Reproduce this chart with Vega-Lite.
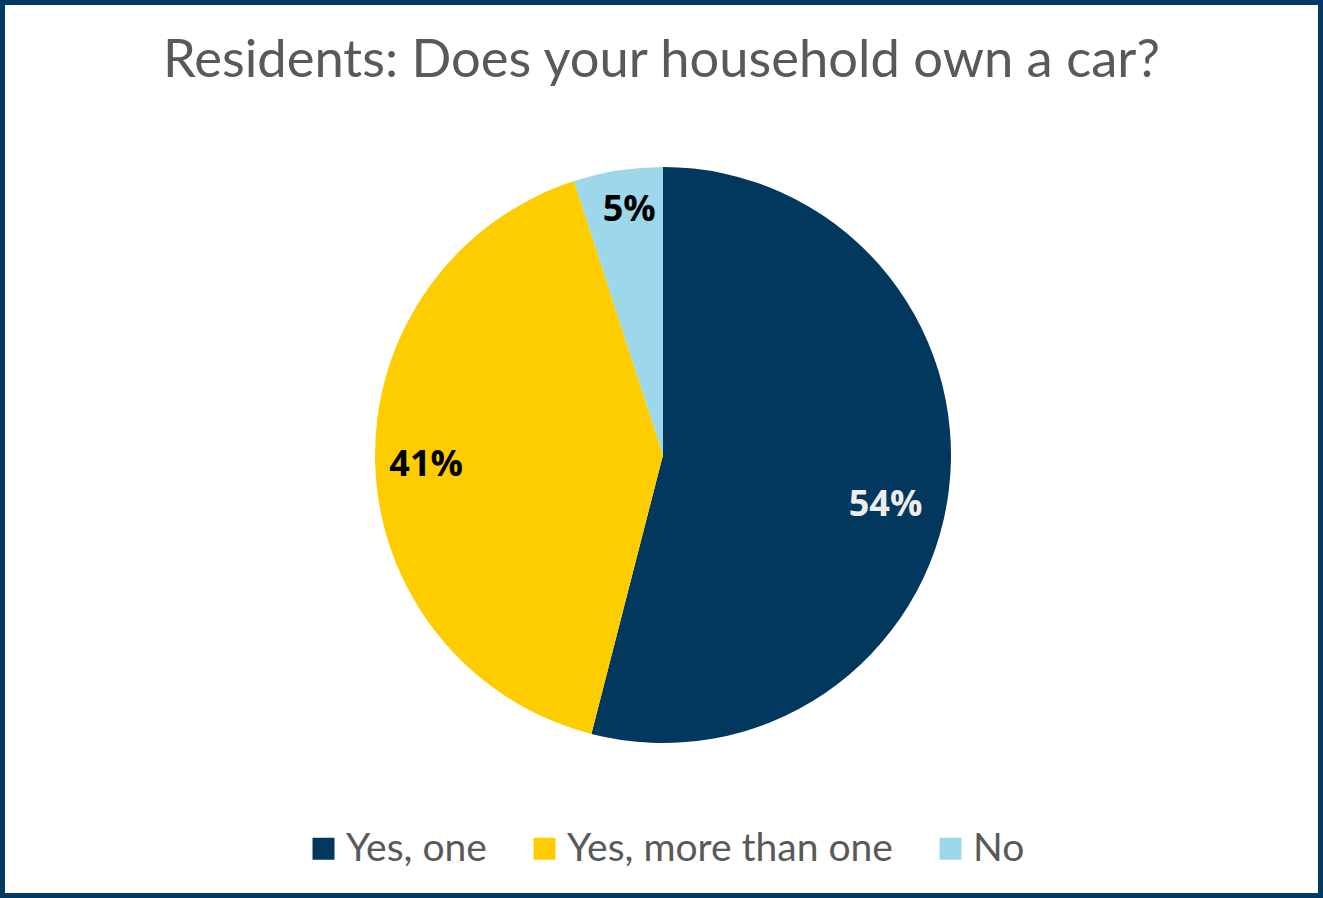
{
  "$schema": "https://vega.github.io/schema/vega-lite/v6.json",
  "width": 1323,
  "height": 898,
  "autosize": {"type": "fit", "contains": "padding"},
  "padding": 0,
  "background": "white",
  "view": {"stroke": "#033A63", "strokeWidth": 10},
  "config": {
    "view": {"stroke": "#033A63", "strokeWidth": 10},
    "font": "Lato"
  },
  "title": {
    "text": "Residents: Does your household own a car?",
    "font": "Lato",
    "fontSize": 52.5,
    "fontWeight": "normal",
    "color": "#595959",
    "anchor": "middle",
    "offset": -88
  },
  "data": {
    "values": [
      {"answer": "Yes, one", "pct": 54, "label": "54%", "ord": 1},
      {"answer": "Yes, more than one", "pct": 41, "label": "41%", "ord": 2},
      {"answer": "No", "pct": 5, "label": "5%", "ord": 3}
    ]
  },
  "encoding": {
    "theta": {"field": "pct", "type": "quantitative", "stack": true},
    "order": {"field": "ord", "type": "quantitative"}
  },
  "layer": [
    {
      "mark": {"type": "arc", "radius": 288, "xOffset": 1.5, "yOffset": 6},
      "encoding": {
        "color": {
          "field": "answer",
          "type": "nominal",
          "sort": ["Yes, one", "Yes, more than one", "No"],
          "scale": {
            "domain": ["Yes, one", "Yes, more than one", "No"],
            "range": ["#02375E", "#FDCD00", "#9DD8EA"]
          },
          "legend": {
            "title": null,
            "orient": "none",
            "direction": "horizontal",
            "legendX": 304,
            "legendY": 829,
            "symbolType": "square",
            "symbolSize": 484,
            "symbolStrokeWidth": 0,
            "symbolOpacity": 1,
            "labelFont": "Lato",
            "labelFontSize": 39,
            "labelColor": "#595959",
            "labelOffset": 3,
            "columnPadding": 38,
            "labelLimit": 600
          }
        }
      }
    },
    {
      "mark": {
        "type": "text",
        "radius": 228,
        "thetaOffset": 0.094,
        "xOffset": 1.5,
        "yOffset": 6,
        "font": "Open Sans",
        "fontWeight": "bold",
        "fontSize": 36,
        "align": "center",
        "baseline": "middle"
      },
      "encoding": {
        "text": {"field": "label"},
        "opacity": {
          "condition": {"test": "datum.answer === 'Yes, one'", "value": 1},
          "value": 0
        },
        "color": {"value": "#EDEDED"}
      }
    },
    {
      "mark": {
        "type": "text",
        "radius": 237,
        "xOffset": 1.5,
        "yOffset": 9,
        "font": "Open Sans",
        "fontWeight": "bold",
        "fontSize": 36,
        "align": "center",
        "baseline": "middle"
      },
      "encoding": {
        "text": {"field": "label"},
        "opacity": {
          "condition": {"test": "datum.answer === 'Yes, more than one'", "value": 1},
          "value": 0
        },
        "color": {"value": "#000000"}
      }
    },
    {
      "mark": {
        "type": "text",
        "radius": 247,
        "thetaOffset": 0.02,
        "xOffset": 1.5,
        "yOffset": 6,
        "font": "Open Sans",
        "fontWeight": "bold",
        "fontSize": 36,
        "align": "center",
        "baseline": "middle"
      },
      "encoding": {
        "text": {"field": "label"},
        "opacity": {
          "condition": {"test": "datum.answer === 'No'", "value": 1},
          "value": 0
        },
        "color": {"value": "#000000"}
      }
    }
  ]
}
